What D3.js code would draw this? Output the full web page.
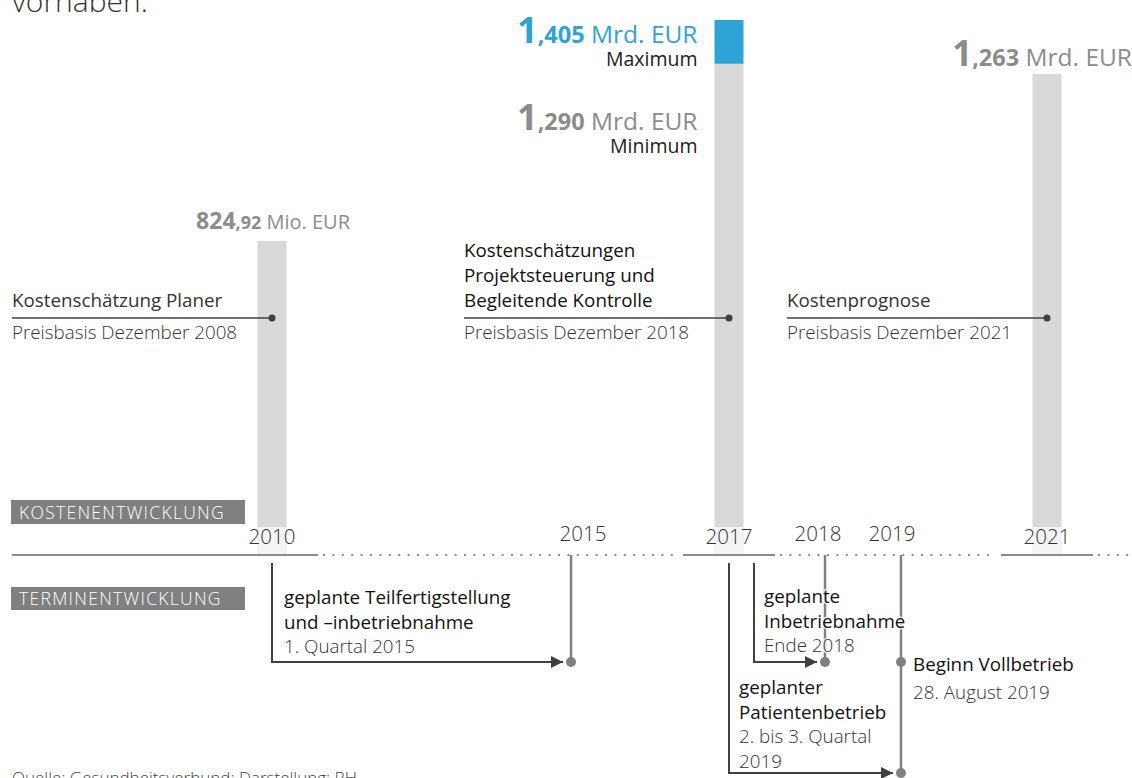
<!DOCTYPE html>
<html>
<head>
<meta charset="utf-8">
<script src="https://cdn.jsdelivr.net/npm/d3@7"></script>
<style>
  body { margin: 0; background: #fff; }
  svg { font-family: "Open Sans", "Noto Sans", sans-serif; }
</style>
</head>
<body>
<script>
// timeline positions (years shown on the axis)
const years = [2010, 2015, 2017, 2018, 2019, 2021]

// cost development, Mio. EUR
const costYears = [2010, 2017, 2021]
const costMin = [824.92, 1290, 1263]
const costMax = [824.92, 1405, 1263]
const costTitles = [
  ["Kostenschätzung Planer"],
  ["Kostenschätzungen", "Projektsteuerung und", "Begleitende Kontrolle"],
  ["Kostenprognose"]
]
const priceBases = ["Preisbasis Dezember 2008", "Preisbasis Dezember 2018", "Preisbasis Dezember 2021"]

// schedule development
const tickYears = [2015, 2018, 2019]
const eventFrom = [2010, 2017, 2017]
const eventTo = [2015, 2018, 2019]
const eventLevel = [1, 1, 2]
const eventTitles = [
  ["geplante Teilfertigstellung", "und –inbetriebnahme"],
  ["geplante", "Inbetriebnahme"],
  ["geplanter", "Patientenbetrieb"]
]
const eventDates = [["1. Quartal 2015"], ["Ende 2018"], ["2. bis 3. Quartal", "2019"]]
const finalEvent = { year: 2019, title: "Beginn Vollbetrieb", date: "28. August 2019" }

const width = 1132, height = 778
const axisY = 555
const barW = 29
const fs = 18.8
const levelY = { 1: 662, 2: 773 }

const x = d3.scaleLinear()
    .domain(years)
    .range([272, 571, 729, 825, 901, 1047])

const y = d3.scaleLinear()
    .domain([0, d3.max(costMax)])
    .range([axisY, 20])

const svg = d3.select("body").append("svg")
    .attr("width", width)
    .attr("height", height)

const defs = svg.append("defs")
defs.append("marker")
    .attr("id", "arrow")
    .attr("viewBox", "0 0 10 10")
    .attr("refX", 10).attr("refY", 5)
    .attr("markerWidth", 7).attr("markerHeight", 6)
    .attr("markerUnits", "strokeWidth")
    .attr("orient", "auto")
  .append("path")
    .attr("d", "M0,0 L10,5 L0,10 Z")
    .attr("fill", "#404040")

// cut-off heading and source (cut in the original too)
svg.append("text")
    .attr("x", 12).attr("y", 12)
    .attr("font-size", 30)
    .attr("font-weight", 300)
    .attr("fill", "#333")
    .text("vorhaben.")

svg.append("text")
    .attr("x", 12).attr("y", 784)
    .attr("font-size", 17)
    .attr("font-weight", 300)
    .attr("fill", "#444")
    .text("Quelle: Gesundheitsverbund; Darstellung: RH")

// bars
const costs = costYears.map((yr, i) => ({ year: yr, min: costMin[i], max: costMax[i], title: costTitles[i], base: priceBases[i] }))

svg.selectAll(".bar")
    .data(costs)
    .enter().append("rect")
      .attr("class", "bar")
      .attr("x", d => x(d.year) - barW / 2)
      .attr("y", d => y(d.min))
      .attr("width", barW)
      .attr("height", d => axisY - y(d.min))
      .attr("fill", "#d9d9d9")

svg.selectAll(".barMax")
    .data(costs.filter(d => d.max > d.min))
    .enter().append("rect")
      .attr("class", "barMax")
      .attr("x", d => x(d.year) - barW / 2)
      .attr("y", d => y(d.max))
      .attr("width", barW)
      .attr("height", d => y(d.min) - y(d.max))
      .attr("fill", "#2fa3d6")

// light patch behind year labels on the bars
svg.selectAll(".barPatch")
    .data(costs)
    .enter().append("rect")
      .attr("x", d => x(d.year) - barW / 2)
      .attr("y", 527)
      .attr("width", barW)
      .attr("height", axisY - 528)
      .attr("fill", "#fff")
      .attr("opacity", 0.7)

// value labels
function valueLabel(g, v, right, baseline, color, big) {
  const t = g.append("text")
      .attr("x", right).attr("y", baseline)
      .attr("text-anchor", "end")
      .attr("fill", color)
  const mrd = v >= 1000
  const parts = d3.format(mrd ? ".3f" : ".2f")(mrd ? v / 1000 : v).split(".")
  t.append("tspan").attr("font-weight", 700).attr("font-size", big).text(parts[0])
  t.append("tspan").attr("font-weight", 700).attr("font-size", mrd ? 23.5 : 18).text("," + parts[1])
  t.append("tspan").attr("font-size", mrd ? 24.5 : 20).text(mrd ? " Mrd. EUR" : " Mio. EUR")
  return t
}

const labelG = svg.append("g")
const rightOf2017 = x(2017) - barW / 2 - 17
valueLabel(labelG, costMax[1], rightOf2017, 43, "#2fa3d6", 36)
labelG.append("text").attr("x", rightOf2017).attr("y", 66)
    .attr("text-anchor", "end").attr("font-size", 19.5).attr("fill", "#222").text("Maximum")
valueLabel(labelG, costMin[1], rightOf2017, 130, "#8c8c8c", 36)
labelG.append("text").attr("x", rightOf2017).attr("y", 153)
    .attr("text-anchor", "end").attr("font-size", 19.5).attr("fill", "#222").text("Minimum")
valueLabel(labelG, costMin[2], width, y(costMin[2]) - 8, "#8c8c8c", 35)
valueLabel(labelG, costMin[0], x(2010) + 78, y(costMin[0]) - 12, "#8c8c8c", 23)

// cost annotations
const annX = [12, 464, 787]
const annY = 318
costs.forEach(function(d, i) {
  svg.append("line")
      .attr("x1", annX[i]).attr("x2", x(d.year))
      .attr("y1", annY).attr("y2", annY)
      .attr("stroke", "#404040").attr("stroke-width", 1.5)
  svg.append("circle")
      .attr("cx", x(d.year)).attr("cy", annY).attr("r", 3.5)
      .attr("fill", "#404040")
  const n = d.title.length
  d.title.forEach(function(line, j) {
    svg.append("text")
        .attr("x", annX[i]).attr("y", annY - 11 - (n - 1 - j) * 25)
        .attr("font-size", fs)
        .attr("fill", n > 1 ? "#111" : "#333")
        .text(line)
  })
  svg.append("text")
      .attr("x", annX[i]).attr("y", annY + 21)
      .attr("font-size", fs)
      .attr("font-weight", 300)
      .attr("fill", "#333")
      .text(d.base)
})

// section labels
const sections = [["KOSTENENTWICKLUNG", 500, 24], ["TERMINENTWICKLUNG", 587, 23]]
sections.forEach(function(s) {
  svg.append("rect").attr("x", 11).attr("y", s[1]).attr("width", 234).attr("height", s[2]).attr("fill", "#808080")
  svg.append("text")
      .attr("x", 19).attr("y", s[1] + s[2] - 5)
      .attr("font-size", 17.5).attr("letter-spacing", 1.3)
      .attr("fill", "#fff").attr("font-weight", 300)
      .text(s[0])
})

// time axis: solid around cost years, dotted between
const pad = 46
const solid = costYears.map((yr, i) => [i === 0 ? 12 : x(yr) - pad, x(yr) + pad])
const dotted = solid.map((s, i) => [s[1] + 5, i < solid.length - 1 ? solid[i + 1][0] - 5 : width])

svg.selectAll(".axisSolid")
    .data(solid)
    .enter().append("line")
      .attr("x1", d => d[0]).attr("x2", d => d[1])
      .attr("y1", axisY).attr("y2", axisY)
      .attr("stroke", "#8c8c8c").attr("stroke-width", 2)

svg.selectAll(".axisDots")
    .data(dotted)
    .enter().append("line")
      .attr("x1", d => d[0]).attr("x2", d => d[1])
      .attr("y1", axisY).attr("y2", axisY)
      .attr("stroke", "#8c8c8c").attr("stroke-width", 2)
      .attr("stroke-dasharray", "2,7.4")

// year labels
const labelDx = { 2015: 12, 2018: -7, 2019: -9 }
svg.selectAll(".yearLabel")
    .data(years)
    .enter().append("text")
      .attr("x", d => x(d) + (labelDx[d] || 0))
      .attr("y", d => costYears.includes(d) ? 544 : 541)
      .attr("text-anchor", "middle")
      .attr("font-size", 20.5)
      .attr("font-weight", 300)
      .attr("fill", "#333")
      .text(d => d)

// gray ticks to the planned dates
const tickEnd = tickYears.map(yr => d3.max(eventTo.map((t, i) => t === yr ? levelY[eventLevel[i]] : 0)))
svg.selectAll(".tick")
    .data(tickYears)
    .enter().append("line")
      .attr("x1", d => x(d)).attr("x2", d => x(d))
      .attr("y1", axisY).attr("y2", (d, i) => tickEnd[i])
      .attr("stroke", "#808080").attr("stroke-width", 2.5)

// event connectors
const events = eventFrom.map((f, i) => ({ from: f, to: eventTo[i], level: eventLevel[i], title: eventTitles[i], date: eventDates[i] }))
const startX = events.map((d, i) => x(d.from) + (i === 1 ? 25 : 0))

svg.selectAll(".event")
    .data(events)
    .enter().append("path")
      .attr("d", (d, i) => "M" + startX[i] + "," + (axisY + 8) + "V" + levelY[d.level] + "H" + (x(d.to) - 8))
      .attr("fill", "none")
      .attr("stroke", "#404040").attr("stroke-width", 2)
      .attr("marker-end", "url(#arrow)")

// dots at planned dates
const dots = events.map(d => [x(d.to), levelY[d.level]]).concat([[x(finalEvent.year), levelY[1]]])
svg.selectAll(".dot")
    .data(dots)
    .enter().append("circle")
      .attr("cx", d => d[0]).attr("cy", d => d[1]).attr("r", 5)
      .attr("fill", "#808080")

// event texts, with a soft white halo over the tick lines
function haloText(tx, ty, str, weight, color) {
  return svg.append("text")
      .attr("x", tx).attr("y", ty)
      .attr("font-size", fs).attr("font-weight", weight).attr("fill", color)
      .attr("stroke", "#fff").attr("stroke-width", 3).attr("stroke-opacity", 0.8)
      .attr("paint-order", "stroke")
      .text(str)
}

const textY = [604, 603, 694]
events.forEach(function(d, i) {
  const tx = startX[i] + (i === 0 ? 12 : 10)
  d.title.forEach(function(line, j) {
    haloText(tx, textY[i] + j * 24.5, line, 400, "#111")
  })
  d.date.forEach(function(line, j) {
    haloText(tx, textY[i] + (d.title.length + j) * 24.5, line, 300, "#333")
  })
})

haloText(x(finalEvent.year) + 12, 671, finalEvent.title, 400, "#111")
haloText(x(finalEvent.year) + 12, 699, finalEvent.date, 300, "#333")
</script>
</body>
</html>
